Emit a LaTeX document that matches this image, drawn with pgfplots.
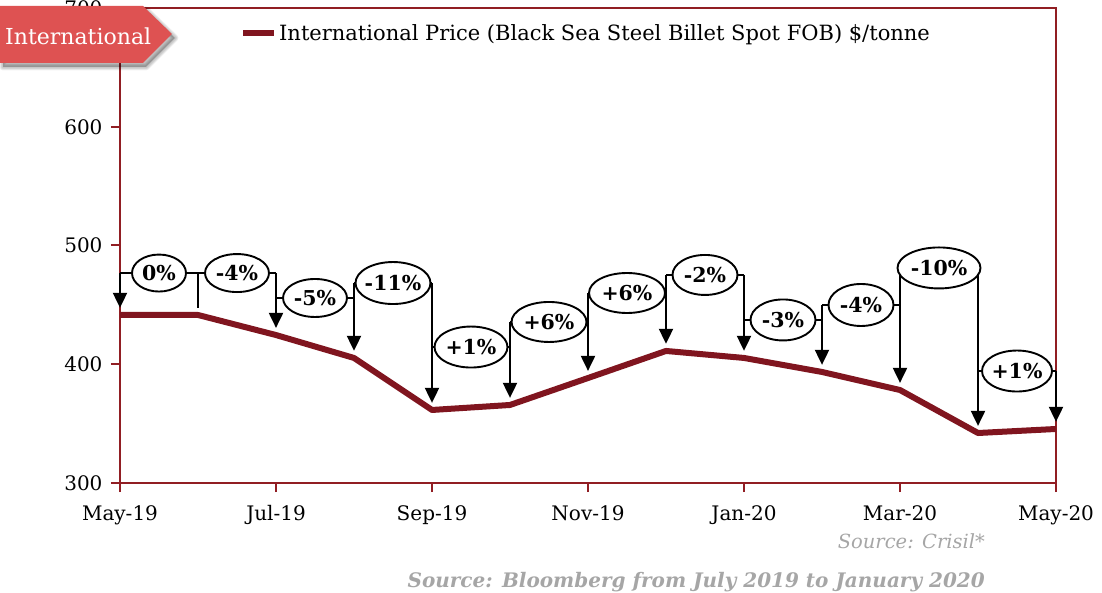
\documentclass[border=0pt]{standalone}
\usepackage{fontspec}
\setmainfont{DejaVu Serif}
\usepackage{pgfplots}
\pgfplotsset{compat=1.18}
\usepackage{pgfplotstable}
\usetikzlibrary{arrows.meta,shapes.geometric}

\definecolor{lineRed}{RGB}{128,21,31}
\definecolor{axisRed}{RGB}{145,30,35}
\definecolor{bannerRed}{RGB}{222,82,82}
\definecolor{srcGray}{RGB}{166,166,166}

% monthly price, May-19 (0) to May-20 (12)
\pgfplotstableread{
x val
0 441.5
1 441.5
2 424.6
3 405.3
4 361.5
5 365.7
6 388.4
7 411.2
8 405.3
9 393.5
10 378.3
11 342.1
12 345.5
}\pricedata

% label: x, y, width, height, text
\newcommand{\lab}[5]{\node[pct, minimum width=#3pt, minimum height=#4pt] at (axis cs:#1,#2) {#5};}
% horizontal connector at level y from x1 to x2
\newcommand{\hcon}[3]{\draw[conn] (axis cs:#1,#3) -- (axis cs:#2,#3);}
% vertical arrow at x from top to tip
\newcommand{\varr}[3]{\draw[arr] (axis cs:#1,#2) -- (axis cs:#1,#3);}
% banner outline
\newcommand{\bannerpath}{(0,529) -- (143,529) -- (172,558) -- (143,586) -- (0,586) -- cycle}

\begin{document}
\begin{tikzpicture}[x=1pt,y=1pt,
  conn/.style={black, line width=2pt},
  arr/.style={black, line width=2pt, -{Triangle[width=14pt,length=15pt]}},
  pct/.style={ellipse, draw=black, line width=1.9pt, fill=white,
    font=\fontsize{20.5}{22}\selectfont\bfseries, inner xsep=-6pt, inner ysep=-4pt}]
\useasboundingbox (0,0) rectangle (1102,592);
\begin{axis}[
  at={(120pt,109pt)}, anchor=south west,
  scale only axis, width=936pt, height=475pt,
  xmin=0, xmax=12, ymin=300, ymax=700,
  clip=false,
  axis line style={draw=axisRed, line width=2pt},
  tick style={draw=axisRed, line width=2pt},
  tick align=outside, major tick length=9pt,
  xtick pos=lower, ytick pos=left,
  xtick={0,2,...,12},
  xticklabels={May-19,Jul-19,Sep-19,Nov-19,Jan-20,Mar-20,May-20},
  ytick={300,400,500,600,700},
  yticklabels={300,400,500,600,700},
  ticklabel style={font=\fontsize{20}{22}\selectfont, text=black},
  xticklabel style={yshift=-10pt},
  yticklabel style={xshift=-5pt},
  legend style={draw=none, fill=none, at={(0.125,0.947)}, anchor=west,
    font=\fontsize{21}{24}\selectfont, legend cell align=left},
  legend image code/.code={\draw[lineRed, line width=5.5pt] (0pt,0pt) -- (18pt,0pt);
    \path (0pt,0pt) -- (31pt,0pt);},
]
\addplot[lineRed, line width=6pt, line join=round] table[x=x,y=val] {\pricedata};
\addlegendentry{International Price (Black Sea Steel Billet Spot FOB) \$/tonne}

% connectors
\hcon{0}{1}{476.8}
\hcon{1}{2}{476.8}
\hcon{2}{3}{455.8}
\hcon{3}{4}{468.4}
\hcon{4}{5}{414.5}
\hcon{5}{6}{435.6}
\hcon{6}{7}{460.0}
\hcon{7}{8}{475.2}
\hcon{8}{9}{437.3}
\hcon{9}{10}{449.9}
\hcon{10}{11}{481.1}
\hcon{11}{12}{394.3}
\varr{0}{476.8}{447.5}
\draw[conn] (axis cs:1,476.8) -- (axis cs:1,447.4);
\varr{2}{476.8}{430.6}
\varr{3}{468.4}{411.3}
\varr{4}{468.4}{367.5}
\varr{5}{435.6}{371.7}
\varr{6}{460.0}{394.4}
\varr{7}{475.2}{417.2}
\varr{8}{475.2}{411.3}
\varr{9}{449.9}{399.5}
\varr{10}{481.1}{384.3}
\varr{11}{481.1}{348.1}
\varr{12}{394.3}{351.5}

% percentage labels
\lab{0.5}{476.8}{54}{37}{0\%}
\lab{1.5}{476.8}{64}{38}{-4\%}
\lab{2.5}{455.8}{64}{38}{-5\%}
\lab{3.5}{468.4}{75}{42}{-11\%}
\lab{4.5}{414.5}{73}{41}{+1\%}
\lab{5.5}{435.6}{75}{40}{+6\%}
\lab{6.5}{460.0}{76}{40}{+6\%}
\lab{7.5}{475.2}{65}{40}{-2\%}
\lab{8.5}{437.3}{65}{41}{-3\%}
\lab{9.5}{449.9}{65}{42}{-4\%}
\lab{10.5}{481.1}{83}{41}{-10\%}
\lab{11.5}{394.3}{70}{41}{+1\%}
\end{axis}

% banner with soft shadow
\foreach \s in {7,5.5,4,2.5}{
  \fill[black, opacity=0.07, xshift=3pt, yshift=-4pt, line join=round]
    \bannerpath;
  \draw[black, opacity=0.06, line width=\s pt, xshift=3pt, yshift=-4pt, line join=round]
    \bannerpath;
}
\fill[bannerRed] \bannerpath;
\node[text=white, anchor=base west, inner sep=0pt, font=\fontsize{22}{26}\selectfont] at (5,547) {International};

% sources
\node[anchor=east, inner sep=0pt, text=srcGray, font=\fontsize{19.5}{22}\selectfont\itshape] at (985,51) {Source: Crisil*};
\node[anchor=east, inner sep=0pt, text=srcGray, font=\fontsize{20}{22}\selectfont\bfseries\itshape] at (985,10) {Source: Bloomberg from July 2019 to January 2020};
\end{tikzpicture}
\end{document}
